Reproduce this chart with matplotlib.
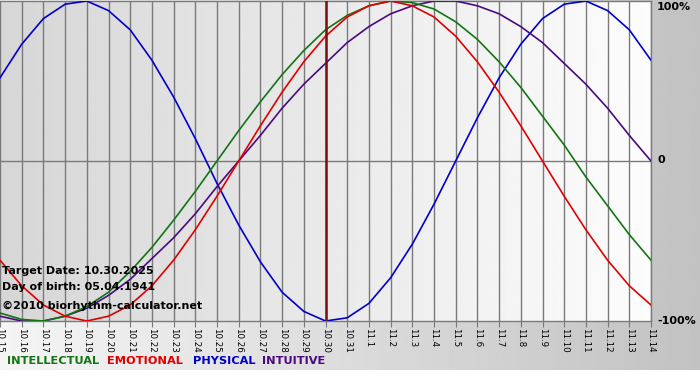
import numpy as np
import matplotlib
matplotlib.use("Agg")
import matplotlib.pyplot as plt

days = ["10.15", "10.16", "10.17", "10.18", "10.19", "10.20", "10.21", "10.22", "10.23",
        "10.24", "10.25", "10.26", "10.27", "10.28", "10.29", "10.30", "10.31",
        "11.1", "11.2", "11.3", "11.4", "11.5", "11.6", "11.7", "11.8", "11.9",
        "11.10", "11.11", "11.12", "11.13", "11.14"]

physical = [0.52, 0.73, 0.89, 0.98, 1.00, 0.94, 0.82, 0.63, 0.40, 0.14, -0.14,
            -0.40, -0.63, -0.82, -0.94, -1.00, -0.98, -0.89, -0.73, -0.52, -0.27,
            0.00, 0.27, 0.52, 0.73, 0.89, 0.98, 1.00, 0.94, 0.82, 0.63]
emotional = [-0.62, -0.78, -0.90, -0.97, -1.00, -0.97, -0.90, -0.78, -0.62, -0.43, -0.22,
             0.00, 0.22, 0.43, 0.62, 0.78, 0.90, 0.97, 1.00, 0.97, 0.90,
             0.78, 0.62, 0.43, 0.22, 0.00, -0.22, -0.43, -0.62, -0.78, -0.90]
intellectual = [-0.95, -0.99, -1.00, -0.97, -0.91, -0.82, -0.69, -0.54, -0.37, -0.19, 0.00,
                0.19, 0.37, 0.54, 0.69, 0.82, 0.91, 0.97, 1.00, 0.99, 0.95,
                0.87, 0.76, 0.62, 0.46, 0.28, 0.10, -0.10, -0.28, -0.46, -0.62]
intuitive = [-0.97, -1.00, -1.00, -0.97, -0.92, -0.84, -0.74, -0.61, -0.48, -0.33, -0.16,
             0.00, 0.16, 0.33, 0.48, 0.61, 0.74, 0.84, 0.92, 0.97, 1.00,
             1.00, 0.97, 0.92, 0.84, 0.74, 0.61, 0.48, 0.33, 0.16, 0.00]
target_index = 15
y_labels = ["100%", "0", "-100%"]
legend_names = ["INTELLECTUAL", "EMOTIONAL", "PHYSICAL", "INTUITIVE"]
info_lines = ["Target Date: 10.30.2025", "Day of birth: 05.04.1941", "\u00a92010 biorhythm-calculator.net"]

col_int = "#127512"
col_emo = "#e00000"
col_phy = "#0000cc"
col_itu = "#4a0a80"

W, H = 700, 380
fig = plt.figure(figsize=(W / 100, H / 100), dpi=100)

# figure background
bg = fig.add_axes([0, 0, 1, 1])
bg.set_axis_off()
grad = np.linspace(0.96, 0.76, 256)
img = np.tile(grad, (2, 1))
bg.imshow(img, cmap="gray", vmin=0, vmax=1, aspect="auto",
          extent=[0, W, H - 370, H], origin="lower")
bg.set_xlim(0, W)
bg.set_ylim(0, H)

x = np.arange(len(days))
ax = fig.add_axes([0, (H - 321) / H, 651 / W, 320 / H])
ax.set_xlim(0, len(days) - 1)
ax.set_ylim(-1, 1)

pg = np.linspace(0.84, 0.99, 256)
ax.imshow(np.tile(pg, (2, 1)), cmap="gray", vmin=0, vmax=1, aspect="auto",
          extent=[0, len(days) - 1, -1, 1], zorder=0)

for xi in x:
    ax.axvline(xi, color="#7a7a7a", lw=1.0, zorder=1)
ax.axhline(0, color="#7a7a7a", lw=1.0, zorder=1)

lw = 1.2
ax.plot(x, physical, color=col_phy, lw=lw, zorder=3)
ax.plot(x, intuitive, color=col_itu, lw=lw, zorder=3)
ax.plot(x, intellectual, color=col_int, lw=lw, zorder=3)
ax.plot(x, emotional, color=col_emo, lw=lw, zorder=3)
ax.axvline(x[target_index], color="#7a1010", lw=1.8, zorder=4)

for s in ax.spines.values():
    s.set_color("#7a7a7a")
    s.set_linewidth(1.0)
ax.spines["left"].set_visible(False)

ax.set_xticks(x)
ax.set_xticklabels(days, rotation=270, fontsize=6.3, color="black")
ax.tick_params(axis="x", length=4, color="#7a7a7a", pad=1)
ax.set_yticks([])

label_px = [7, 160, 321]
for lab, yp in zip(y_labels, label_px):
    fig.text(657 / W, 1 - yp / H, lab, fontsize=8,
             fontweight="bold", va="center", ha="left", color="black")

for i, line in enumerate(info_lines):
    yy = [271, 287, 306][i]
    fig.text(2 / W, 1 - yy / H, line, fontsize=8, fontweight="bold",
             va="center", ha="left", color="black", zorder=10)

# bottom legend
cols = [col_int, col_emo, col_phy, col_itu]
starts = [7, 107, 193, 262]
for name, c, sx in zip(legend_names, cols, starts):
    fig.text(sx / W, 1 - 361 / H, name, fontsize=8.2, fontweight="bold",
             color=c, va="center", ha="left")

fig.savefig("out.png", dpi=100)
